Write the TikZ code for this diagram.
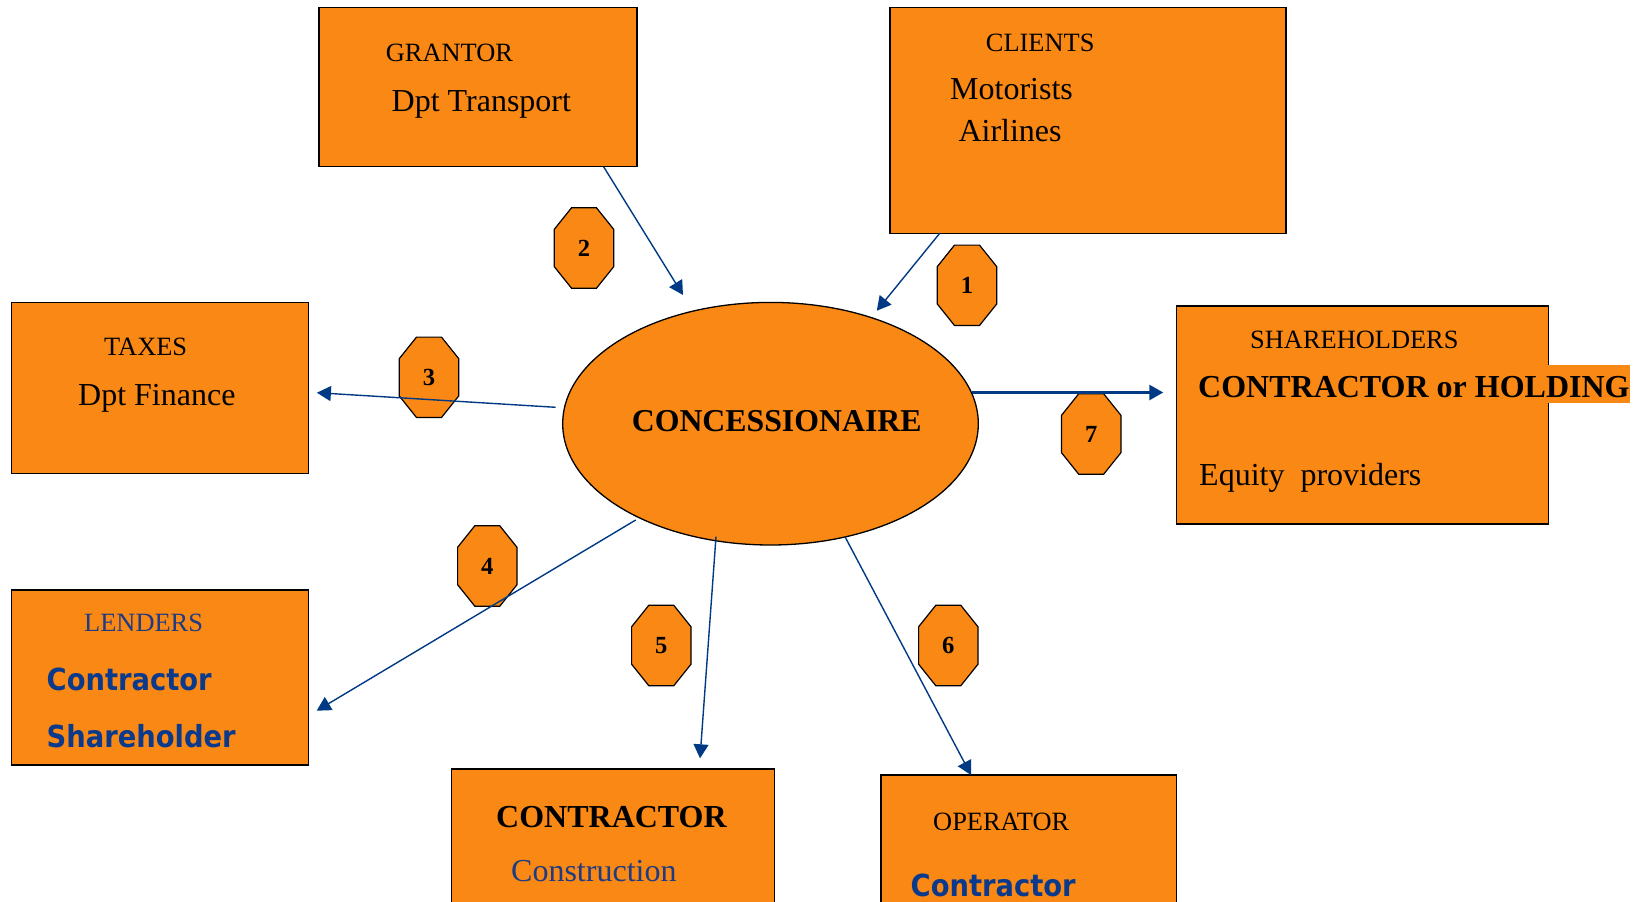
\documentclass[tikz,border=0pt]{standalone}
\usepackage{fontspec}
\setmainfont{Liberation Serif}
\newfontfamily\sansb[FakeStretch=0.9]{DejaVu Sans}
\usetikzlibrary{arrows.meta,shapes.geometric,calc}
\definecolor{orng}{HTML}{F98814}
\definecolor{arrblue}{HTML}{003A85}
\definecolor{txtblue}{HTML}{1F3B82}
\definecolor{sansblue}{HTML}{0B3A8C}
\tikzset{
  box/.style={draw=black, line width=1.5pt, fill=orng, rectangle, inner sep=0pt, outer sep=0pt},
  lbl/.style={anchor=base west, inner sep=0pt, font=\fontsize{26.4}{30}\selectfont},
  body/.style={anchor=base west, inner sep=0pt, font=\fontsize{32}{38}\selectfont},
  bodybold/.style={anchor=base west, inner sep=0pt, font=\fontsize{32}{38}\selectfont\bfseries},
  sanslbl/.style={anchor=base west, inner sep=0pt, text=sansblue, font=\fontsize{30.4}{36}\selectfont\sansb\bfseries},
  octline/.style={draw=black, line width=1.2pt, fill=orng, line join=miter},
  octnum/.style={inner sep=0pt, font=\fontsize{24.6}{28}\selectfont\bfseries},
  conn/.style={draw=arrblue, line width=1.4pt, -{Triangle[length=14pt,width=15pt]}},
  octo/.pic={
    \draw[octline] (-29.7,-18.7) -- (-12.5,-40.2) -- (12.5,-40.2) -- (29.7,-18.7)
      -- (29.7,18.7) -- (12.5,40.2) -- (-12.5,40.2) -- (-29.7,18.7) -- cycle;
    \node[octnum] (-n) at (0,0) {#1};
  }
}
\begin{document}
\begin{tikzpicture}[x=1pt,y=-1pt]
\path[use as bounding box] (0,0) rectangle (1639,902);
\fill[white] (0,0) rectangle (1639,902);
\clip (0,0) rectangle (1639,902);

% boxes
\node[box, minimum width=318.2pt, minimum height=159.4pt] (grantor) at (477.9,87) {};
\node[box, minimum width=396pt, minimum height=226pt] (clients) at (1088,120.3) {};
\node[box, minimum width=297pt, minimum height=171pt] (taxes) at (160,387.8) {};
\node[box, minimum width=371.6pt, minimum height=218pt] (share) at (1362.5,415) {};
\node[box, minimum width=297pt, minimum height=175pt] (lenders) at (159.8,677.5) {};
\node[box, minimum width=323.4pt, minimum height=141pt] (contractor) at (613,839.5) {};
\node[box, minimum width=295.7pt, minimum height=135pt] (operator) at (1028.85,842.5) {};

% highlight behind CONTRACTOR or HOLDING
\fill[orng] (1547,365) rectangle (1630,403.3);

% central ellipse
\node[draw=black, line width=1.3pt, fill=orng, ellipse, minimum width=415.6pt,
      minimum height=242.6pt, inner sep=0pt, outer sep=0pt] (conc) at (770.5,423.7) {};
\node[anchor=base, inner sep=0pt, font=\fontsize{31.8}{36}\selectfont\bfseries]
      (concT) at (776.7,431) {CONCESSIONAIRE};

% octagons
\pic (o1) at (967,285.3) {octo=1};
\pic (o2) at (584,248) {octo=2};
\pic (o3) at (429,377.3) {octo=3};
\pic (o4) at (487.3,566) {octo=4};
\pic (o5) at (661.3,645.5) {octo=5};
\pic (o6) at (948.3,645.5) {octo=6};
\pic (o7) at (1091.2,434) {octo=7};

% texts
\node[lbl] (grantorT) at (385.7,61) {GRANTOR};
\node[body] (grantorD) at (391.5,111) {Dpt Transport};
\node[lbl] (clientsT) at (985.7,51) {CLIENTS};
\node[body] (clientsM) at (950,99) {Motorists};
\node[body] (clientsA) at (958.3,141.7) {Airlines};
\node[lbl] (taxesT) at (104,355) {TAXES};
\node[body] (taxesD) at (78,405) {Dpt Finance};
\node[lbl] (shareT) at (1250,348.3) {SHAREHOLDERS};
\node[bodybold] (shareC) at (1198,397.3) {CONTRACTOR or HOLDING};
\node[body] (shareE) at (1199,485) {Equity\ \ providers};
\node[lbl, text=txtblue] (lendersT) at (84,631.7) {LENDERS};
\node[sanslbl] (lendersC) at (46.5,690) {Contractor};
\node[sanslbl] (lendersS) at (46.5,747.3) {Shareholder};
\node[bodybold] (contrT) at (496,827.7) {CONTRACTOR};
\node[body, text=txtblue] (contrC) at (511,881.7) {Construction};
\node[lbl] (operT) at (933,830) {OPERATOR};
\node[sanslbl] (operC) at (910.5,896.7) {Contractor};

% connectors
\draw[conn] ([xshift=49.7pt]clients.south west) -- ([xshift=106.3pt,yshift=113pt]conc.center);
\draw[conn] ([xshift=284.8pt]grantor.south west) -- ([xshift=-87.5pt,yshift=128.7pt]conc.center);
\draw[conn] ([xshift=-214.8pt,yshift=16.4pt]conc.center) -- ([xshift=8.4pt,yshift=-4.9pt]taxes.east);
\draw[conn] ([xshift=-134.8pt,yshift=-96.3pt]conc.center) -- ([xshift=8.4pt,yshift=-33.2pt]lenders.east);
\draw[conn] ([xshift=-54.5pt,yshift=-113pt]conc.center) -- ([xshift=248.7pt,yshift=10.7pt]contractor.north west);
\draw[conn] ([xshift=74.5pt,yshift=-113pt]conc.center) -- ([xshift=90pt]operator.north west);
\draw[conn, line width=2.7pt] ([xshift=201.2pt,yshift=31.2pt]conc.center) -- ([xshift=-13.4pt,yshift=22.5pt]share.west);
\end{tikzpicture}
\end{document}
